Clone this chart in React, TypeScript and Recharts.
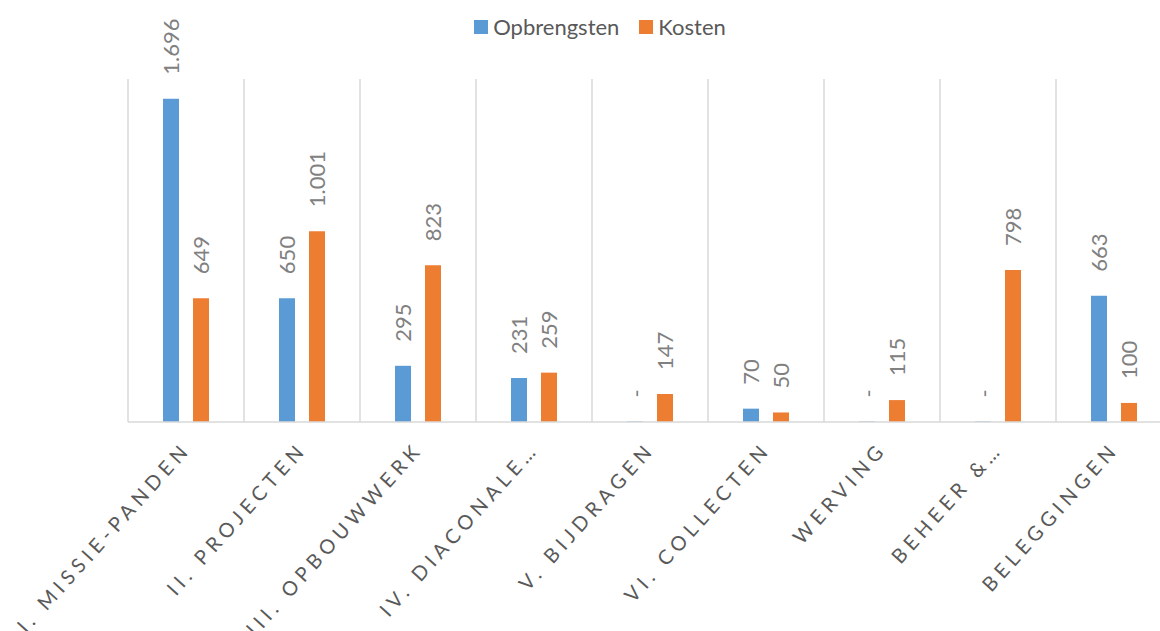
import React from "react"
import { BarChart, Bar, XAxis, YAxis, CartesianGrid, LabelList } from "recharts"

const categories = [
    "I. MISSIE-PANDEN",
    "II. PROJECTEN",
    "III. OPBOUWWERK",
    "IV. DIACONALE…",
    "V. BIJDRAGEN",
    "VI. COLLECTEN",
    "WERVING",
    "BEHEER &…",
    "BELEGGINGEN",
]
const opbrengsten = [1696, 650, 295, 231, 0, 70, 0, 0, 663]
const kosten = [649, 1001, 823, 259, 147, 50, 115, 798, 100]

const BLUE = "#5b9bd5"
const ORANGE = "#ed7d31"
const GRID = "#d9d9d9"
const FONT = "Lato, 'Open Sans', sans-serif"

const chartData = categories.map((name, i) => ({
    name,
    opbrengsten: opbrengsten[i],
    kosten: kosten[i],
}))

// Dutch thousands separator, zero shown as dash (like Excel accounting format)
const formatValue = (v: number) =>
    v === 0 ? "-" : String(v).replace(/\B(?=(\d{3})+(?!\d))/g, ".")

const ValueLabel = (props: any) => {
    const { x, y, width, value } = props
    const cx = Number(x) + Number(width) / 2
    const ty = Number(y) - 24
    return (
        <text
            x={cx}
            y={ty}
            transform={`rotate(-90, ${cx}, ${ty})`}
            textAnchor="start"
            dominantBaseline="central"
            fill="#808080"
            fontSize={22}
            fontFamily={FONT}
        >
            {formatValue(Number(value))}
        </text>
    )
}

const CategoryTick = (props: any) => {
    const { x, y, payload } = props
    const tx = x + 6
    const ty = y + 20
    return (
        <text
            x={tx}
            y={ty}
            transform={`rotate(-48, ${tx}, ${ty})`}
            textAnchor="end"
            fill="#595959"
            fontSize={20}
            letterSpacing={5}
            fontFamily={FONT}
        >
            {payload.value}
        </text>
    )
}

// grid lines on the category boundaries instead of the centers
const boundaryLines = ({ offset }: any) =>
    chartData.map((_, i) => offset.left + (i * offset.width) / chartData.length).concat(offset.left + offset.width)

export default function App() {
    return (
        <div style={{ position: "fixed", left: 0, top: 0, width: 1160, height: 631, overflow: "hidden", background: "#fff" }}>
            <div
                style={{
                    position: "absolute",
                    top: 13,
                    left: 0,
                    width: 1200,
                    display: "flex",
                    justifyContent: "center",
                    gap: 20,
                    fontFamily: FONT,
                    fontSize: 22,
                    color: "#595959",
                }}
            >
                <span style={{ display: "flex", alignItems: "center", gap: 5 }}>
                    <span style={{ width: 14, height: 14, background: BLUE, display: "inline-block" }} />
                    Opbrengsten
                </span>
                <span style={{ display: "flex", alignItems: "center", gap: 5 }}>
                    <span style={{ width: 14, height: 14, background: ORANGE, display: "inline-block" }} />
                    Kosten
                </span>
            </div>
            <div style={{ position: "absolute", left: 0, top: 0 }}>
                <BarChart
                    width={1180}
                    height={631}
                    data={chartData}
                    margin={{ top: 79, right: 8, left: 128, bottom: 89 }}
                    barSize={16}
                    barGap={14}
                >
                    <CartesianGrid horizontal={false} stroke={GRID} strokeWidth={1.5} verticalCoordinatesGenerator={boundaryLines} />
                    <XAxis
                        dataKey="name"
                        height={120}
                        axisLine={{ stroke: GRID, strokeWidth: 1.5 }}
                        tickLine={false}
                        interval={0}
                        tick={<CategoryTick />}
                    />
                    <YAxis hide domain={[0, 1800]} />
                    <Bar dataKey="opbrengsten" fill={BLUE} minPointSize={0.5} isAnimationActive={false}>
                        <LabelList dataKey="opbrengsten" content={<ValueLabel />} />
                    </Bar>
                    <Bar dataKey="kosten" fill={ORANGE} minPointSize={0.5} isAnimationActive={false}>
                        <LabelList dataKey="kosten" content={<ValueLabel />} />
                    </Bar>
                </BarChart>
            </div>
        </div>
    )
}
